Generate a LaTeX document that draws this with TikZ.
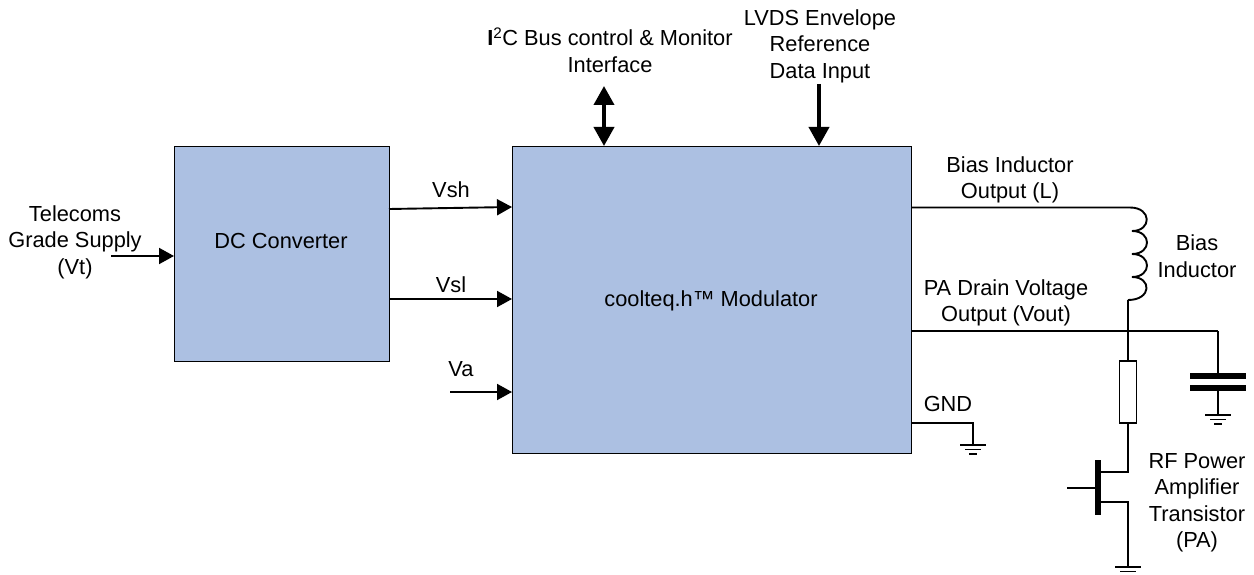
\documentclass[tikz,border=0pt]{standalone}
\usepackage{fontspec}
\setmainfont{Liberation Sans}
\usetikzlibrary{arrows.meta,calc}
\definecolor{blockblue}{RGB}{172,192,226}
\tikzset{
  x=1pt,y=-1pt,
  blockbox/.style={draw=black,line width=1.4pt,fill=blockblue,anchor=north west,inner sep=0pt},
  wire/.style={draw=black,line width=1.9pt},
  sig/.style={wire,-{Triangle[length=15pt,width=16pt]}},
  fatsig/.style={draw=black,line width=3.8pt,-{Triangle[length=19pt,width=20pt]}},
  fatboth/.style={draw=black,line width=3.8pt,{Triangle[length=19pt,width=20pt]}-{Triangle[length=19pt,width=20pt]}},
  lbl/.style={inner sep=0pt,align=center,font=\fontsize{21.8pt}{26.5pt}\selectfont,text=black},
  plate/.style={draw=black,line width=6pt},
  gatebar/.style={draw=black,line width=6.5pt},
  resbox/.style={draw=black,line width=1.7pt,fill=white,inner sep=0pt,minimum width=17pt,minimum height=62pt},
  gndbar/.style={draw=black,line width=1.9pt}
}
\newcommand{\gndsym}[1]{%
  \draw[gndbar] ($(#1)+(-13,0)$) -- ($(#1)+(13,0)$);
  \draw[gndbar] ($(#1)+(-8,4.5)$) -- ($(#1)+(8,4.5)$);
  \draw[gndbar] ($(#1)+(-4,9)$) -- ($(#1)+(4,9)$);
}
\begin{document}
\begin{tikzpicture}
\useasboundingbox (0,0) rectangle (1254,575);
\fill[white] (0,0) rectangle (1254,575);
\node[blockbox,minimum width=215pt,minimum height=215pt] (dc) at (174,146) {};
\node[blockbox,minimum width=399pt,minimum height=307pt] (mod) at (512,146) {};
\node[lbl] (dclabel) at (281,241) {DC Converter};
\node[lbl] (modlabel) at (711,300.5) {coolteq.h™ Modulator};
\node[lbl] (tel) at (75,242) {Telecoms\\Grade Supply\\(Vt)};
\node[lbl] (vsh) at (451,190) {Vsh};
\node[lbl] (vsl) at (451,284.5) {Vsl};
\node[lbl] (va) at (461,369) {Va};
\node[lbl] (i2c) at (610,50) {\textbf{I}\textsuperscript{2}C Bus control \& Monitor\\Interface};
\node[lbl] (lvds) at (820,46) {LVDS Envelope\\Reference\\Data Input};
\node[lbl] (bo) at (1010,180) {Bias Inductor\\Output (L)};
\node[lbl] (pa) at (1006,303) {PA Drain Voltage\\Output (Vout)};
\node[lbl] (gnd) at (948,404) {GND};
\node[lbl] (bi) at (1197,256) {Bias\\Inductor};
\node[lbl] (rf) at (1197,503) {RF Power\\Amplifier\\Transistor\\(PA)};
% inputs
\coordinate (t0) at (111,256);
\draw[sig] (t0) -- (dc.west |- t0);
\coordinate (sh0) at (389,209);
\coordinate (sh1) at (512,207);
\draw[sig] (sh0) -- (sh1);
\coordinate (sl0) at (389,299);
\draw[sig] (sl0) -- (mod.west |- sl0);
\coordinate (a0) at (450,392);
\draw[sig] (a0) -- (mod.west |- a0);
\coordinate (i0) at (604,86);
\coordinate (l0) at (819,84);
\draw[fatboth] (i0) -- (i0 |- mod.north);
\draw[fatsig] (l0) -- (l0 |- mod.north);
% inductor
\coordinate (lstart) at (911,207.5);
\coordinate (ltop) at (1130,207.5);
\coordinate (lbot) at (1128,300);
\draw[wire] (lstart) -- (ltop)
  .. controls (1152,207.5) and (1152,231) .. (1132,231)
  .. controls (1152,231) and (1152,254) .. (1132,254)
  .. controls (1152,254) and (1152,277) .. (1132,277)
  .. controls (1152,277) and (1152,300) .. (1128,300);
% vout and resistor
\node[resbox] (res) at (1128,392) {};
\coordinate (vs) at (911,331);
\coordinate (vj) at (1128,331);
\coordinate (vc) at (1218,331);
\draw[wire] (vs) -- (vj) -- (vc);
\draw[wire] (lbot) -- (vj) -- (res.north);
% capacitor
\coordinate (c1) at (1218,376);
\coordinate (c2) at (1218,388);
\coordinate (g1) at (1218,415);
\draw[wire] (vc) -- (c1);
\draw[wire] (c2) -- (g1);
\draw[plate] ($(c1)+(-28,0)$) -- ($(c1)+(28,0)$);
\draw[plate] ($(c2)+(-28,0)$) -- ($(c2)+(28,0)$);
\gndsym{g1}
% GND
\coordinate (g0) at (911,423);
\coordinate (g2c) at (973,423);
\coordinate (g2) at (973,445);
\draw[wire] (g0) -- (g2c) -- (g2);
\gndsym{g2}
% transistor
\coordinate (bar1) at (1098,460);
\coordinate (bar2) at (1098,515);
\coordinate (gate) at (1067,488);
\coordinate (dr) at (1128,472);
\coordinate (sr) at (1128,502);
\coordinate (g3) at (1128,567);
\draw[gatebar] (bar1) -- (bar2);
\draw[wire] (gate) -- (bar1 |- gate);
\draw[wire] (res.south) -- (dr) -- (bar1 |- dr);
\draw[wire] (bar1 |- sr) -- (sr) -- (g3);
\gndsym{g3}
\end{tikzpicture}
\end{document}
